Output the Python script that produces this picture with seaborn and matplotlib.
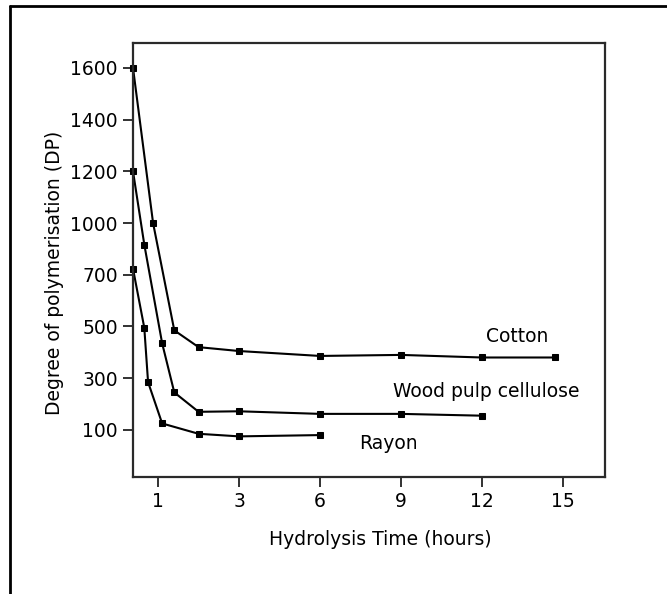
import numpy as np
import pandas as pd
import matplotlib
matplotlib.use('Agg')
import matplotlib.pyplot as plt
from matplotlib.lines import Line2D
import seaborn as sns

# data
cotton_time = [0, 0.8, 1.4, 2, 3, 6, 9, 12, 14.7]
cotton_dp = [1600, 1000, 485, 420, 405, 386, 390, 380, 380]

wood_time = [0, 0.45, 1.1, 1.4, 2, 3, 6, 9, 12]
wood_dp = [1200, 875, 435, 245, 170, 172, 162, 162, 155]

rayon_time = [0, 0.45, 0.6, 1.1, 2, 3, 6]
rayon_dp = [735, 495, 285, 125, 85, 75, 80]

x_ticks = [1, 3, 6, 9, 12, 15]
y_ticks = [100, 300, 500, 700, 1000, 1200, 1400, 1600]

df = pd.concat([
    pd.DataFrame({'time': cotton_time, 'dp': cotton_dp, 'material': 'Cotton'}),
    pd.DataFrame({'time': wood_time, 'dp': wood_dp, 'material': 'Wood pulp cellulose'}),
    pd.DataFrame({'time': rayon_time, 'dp': rayon_dp, 'material': 'Rayon'}),
])


# the original axes are drawn with evenly spaced ticks, whatever the value gap
def piecewise(src, dst):
    src = np.asarray(src, float)
    dst = np.asarray(dst, float)
    lo = (dst[1] - dst[0]) / (src[1] - src[0])
    hi = (dst[-1] - dst[-2]) / (src[-1] - src[-2])

    def f(v):
        v = np.asarray(v, float)
        out = np.interp(v, src, dst)
        out = np.where(v < src[0], dst[0] + (v - src[0]) * lo, out)
        out = np.where(v > src[-1], dst[-1] + (v - src[-1]) * hi, out)
        return out
    return f


x_knots = [0] + x_ticks
x_idx = [-0.31, 0, 1, 2, 3, 4, 5]
y_idx = list(range(len(y_ticks)))

sns.set_style('ticks')
plt.rcParams['font.family'] = ['DejaVu Sans']
plt.rcParams['text.color'] = 'black'
plt.rcParams['axes.labelcolor'] = 'black'
fs = 13.5

fig = plt.figure(figsize=(6.67, 5.94), dpi=100)
ax = fig.add_axes([0.1994, 0.197, 0.7076, 0.7306])

sns.lineplot(data=df, x='time', y='dp', units='material', estimator=None,
             color='black', linewidth=1.5, marker='s', markersize=4,
             markeredgecolor='black', ax=ax, clip_on=False)

ax.set_xscale('function', functions=(piecewise(x_knots, x_idx), piecewise(x_idx, x_knots)))
ax.set_yscale('function', functions=(piecewise(y_ticks, y_idx), piecewise(y_idx, y_ticks)))
ax.set_xlim(0, 16.56)
ax.set_ylim(-82, 1696)

ax.set_xticks(x_ticks)
ax.set_xticklabels([str(t) for t in x_ticks], fontsize=fs)
ax.set_yticks(y_ticks)
ax.set_yticklabels([str(t) for t in y_ticks], fontsize=fs)
ax.minorticks_off()
ax.tick_params(axis='both', direction='out', length=7.5, width=1.3,
               color='#222222', pad=3.5, labelcolor='black')

for s in ax.spines.values():
    s.set_visible(True)
    s.set_color('#2a2a2a')
    s.set_linewidth(1.6)

ax.set_xlabel('Hydrolysis Time (hours)', fontsize=fs, color='black')
ax.set_ylabel('Degree of polymerisation (DP)', fontsize=fs, color='black')
ax.xaxis.set_label_coords(0.523, -0.122)
ax.yaxis.set_label_coords(-0.146, 0.47)

ax.text(0.8136, 0.3226, 'Cotton', transform=ax.transAxes, fontsize=fs,
        ha='center', va='center', color='black')
ax.text(0.748, 0.198, 'Wood pulp cellulose', transform=ax.transAxes, fontsize=fs,
        ha='center', va='center', color='black')
ax.text(0.542, 0.078, 'Rayon', transform=ax.transAxes, fontsize=fs,
        ha='center', va='center', color='black')

# outer frame (top and left edges only, as in the scan)
fig.add_artist(Line2D([0.015, 1], [0.99, 0.99], transform=fig.transFigure,
                      color='black', linewidth=2))
fig.add_artist(Line2D([0.015, 0.015], [0, 0.99], transform=fig.transFigure,
                      color='black', linewidth=2))

fig.savefig('out.png', dpi=100)
